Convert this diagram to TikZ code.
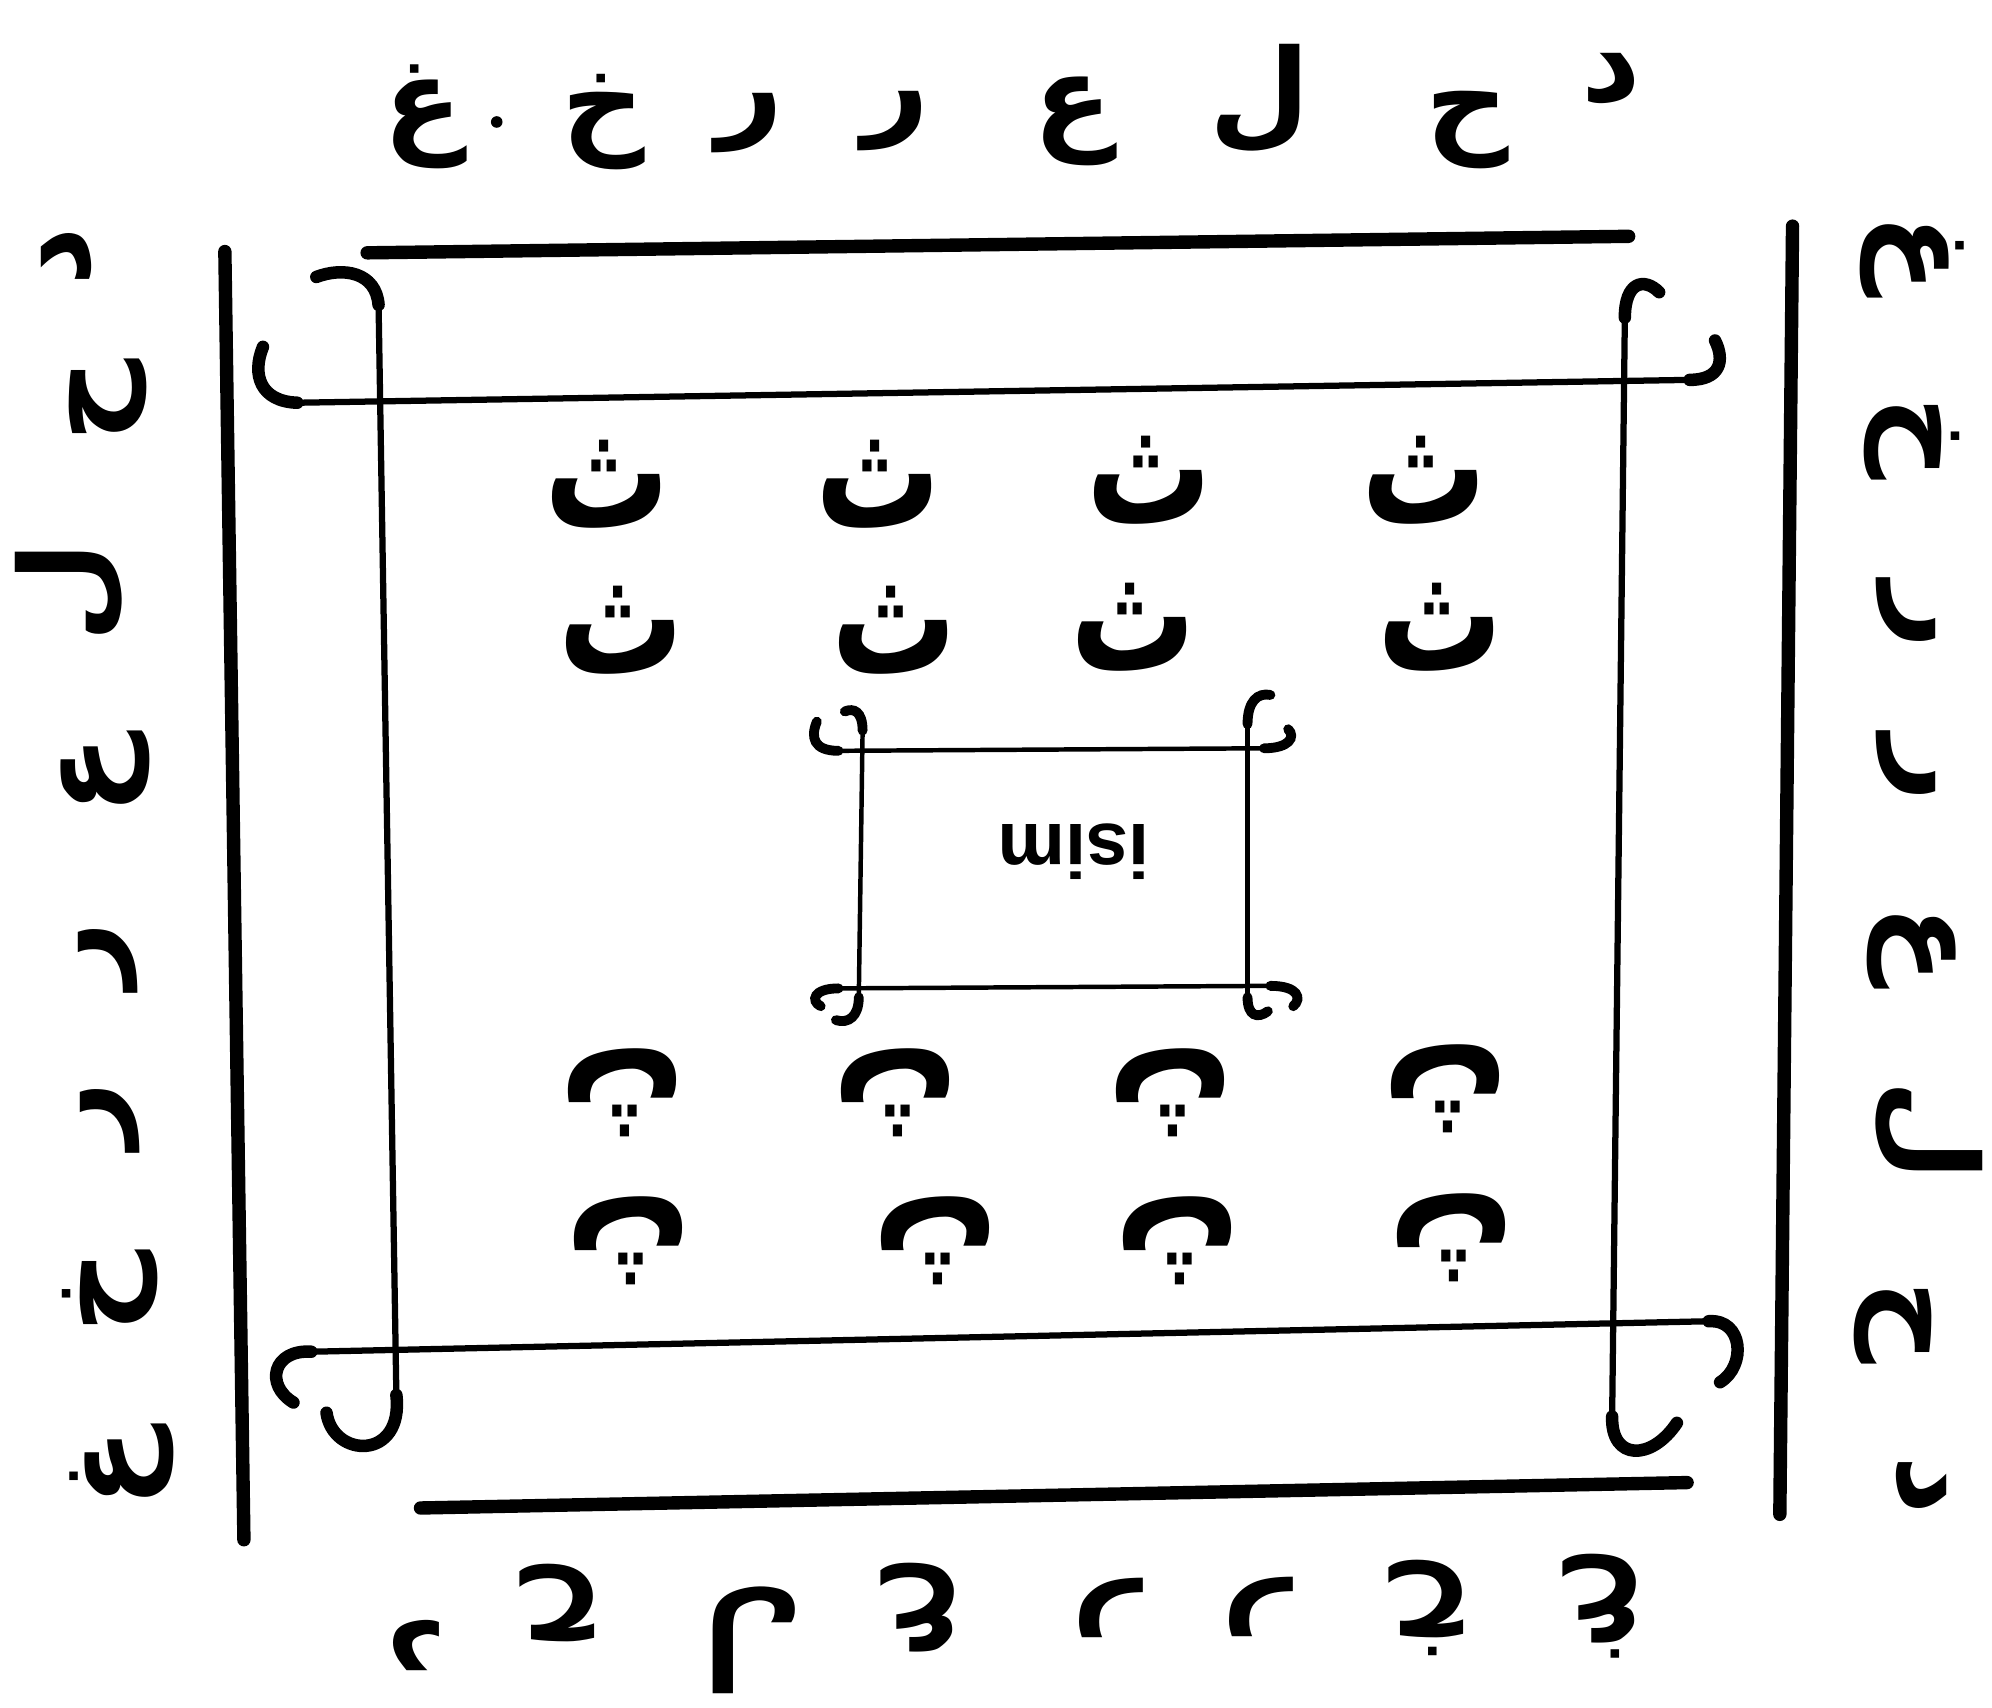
\documentclass[tikz,border=0pt]{standalone}
\usepackage{fontspec}
\usepackage{graphicx}
\setmainfont{Liberation Sans}
\newfontfamily\arabicfont[Script=Arabic]{DejaVu Sans}
\TeXXeTstate=1
\newcommand{\thaglyph}{\scalebox{1}[1.3]{\beginR ث\endR}}
\tikzset{
  bar/.style={line width=3pt, line cap=round},
  ln/.style={line width=1.4pt},
  hk/.style={line width=2.8pt, line cap=round},
  sln/.style={line width=1pt},
  shk/.style={line width=2.2pt, line cap=round},
  ltr/.style={font=\arabicfont\bfseries\fontsize{26}{30}\selectfont, inner sep=0pt,
              execute at begin node=\beginR, execute at end node=\endR},
  th/.style={font=\arabicfont\bfseries\fontsize{28}{32}\selectfont, inner sep=0pt},
  nm/.style={font=\bfseries\fontsize{17}{20}\selectfont, inner sep=0pt, rotate=180}
}
\begin{document}
\begin{tikzpicture}[x=0.01cm,y=-0.01cm]
  \useasboundingbox (0,0) rectangle (1568,1344);
  % Outer bars
  \draw[bar] (289,199) -- (1282,186);
  \draw[bar] (177,198) -- (192,1212);
  \draw[bar] (1411,178) -- (1401,1192);
  \draw[bar] (331,1187) -- (1328,1167);
  % Inner frame
  \draw[ln] (234,317) -- (1330,299);
  \draw[ln] (298,240) -- (312,1098);
  \draw[ln] (1279,250) -- (1269,1115);
  \draw[ln] (245,1064) -- (1345,1040);
  \draw[hk] (234,317) .. controls (205,316) and (198,295) .. (207,273);
  \draw[hk] (298,240) .. controls (296,214) and (270,210) .. (249,218);
  \draw[hk] (1279,250) .. controls (1279,222) and (1294,218) .. (1306,230);
  \draw[hk] (1330,299) .. controls (1354,299) and (1358,284) .. (1350,268);
  \draw[hk] (245,1064) .. controls (215,1062) and (208,1090) .. (231,1104);
  \draw[hk] (312,1098) .. controls (318,1150) and (262,1148) .. (257,1112);
  \draw[hk] (1345,1040) .. controls (1372,1038) and (1375,1075) .. (1354,1088);
  \draw[hk] (1269,1115) .. controls (1268,1150) and (1300,1150) .. (1320,1120);
  % Name box
  \draw[sln] (660,591) -- (995,589);
  \draw[sln] (679,575) -- (676,785);
  \draw[sln] (982,570) -- (982,785);
  \draw[sln] (660,778) -- (1000,776);
  \draw[shk] (660,591) .. controls (640,591) and (638,580) .. (643,568);
  \draw[shk] (679,575) .. controls (679,560) and (672,557) .. (665,560);
  \draw[shk] (982,570) .. controls (982,552) and (990,545) .. (1000,547);
  \draw[shk] (995,589) .. controls (1015,589) and (1020,580) .. (1014,574);
  \draw[shk] (660,778) .. controls (640,778) and (638,788) .. (646,792);
  \draw[shk] (676,785) .. controls (676,800) and (668,806) .. (658,803);
  \draw[shk] (1000,776) .. controls (1022,776) and (1025,786) .. (1018,792);
  \draw[shk] (982,785) .. controls (982,800) and (990,802) .. (998,796);
  \node[nm] (name) at (845,670) {isim};
  % Top row
  \node[ltr] (t1) at (333,92) {غ};
  \fill (391,96) circle[radius=1.3pt];
  \node[ltr] (t2) at (475,96) {خ};
  \node[ltr] (t3) at (590,97) {ر};
  \node[ltr] (t4) at (705,95) {ر};
  \node[ltr] (t5) at (845,95) {ع};
  \node[ltr] (t6) at (992,78) {ل};
  \node[ltr] (t7) at (1155,102) {ح};
  \node[ltr] (t8) at (1268,62) {د};
  % Left column
  \node[ltr, rotate=90] (l1) at (53,202) {د};
  \node[ltr, rotate=90] (l2) at (85,315) {ح};
  \node[ltr, rotate=90] (l3) at (55,466) {ل};
  \node[ltr, rotate=90] (l4) at (83,610) {ع};
  \node[ltr, rotate=90] (l5) at (85,752) {ر};
  \node[ltr, rotate=90] (l6) at (87,878) {ر};
  \node[ltr, rotate=90] (l7) at (87,1017) {خ};
  \node[ltr, rotate=90] (l8) at (96,1155) {غ};
  % Right column
  \node[ltr, rotate=-90] (r1) at (1505,200) {غ};
  \node[ltr, rotate=-90] (r2) at (1505,345) {خ};
  \node[ltr, rotate=-90] (r3) at (1500,485) {ر};
  \node[ltr, rotate=-90] (r4) at (1500,605) {ر};
  \node[ltr, rotate=-90] (r5) at (1505,744) {ع};
  \node[ltr, rotate=-90] (r6) at (1518,890) {ل};
  \node[ltr, rotate=-90] (r7) at (1490,1041) {ح};
  \node[ltr, rotate=-90] (r8) at (1512,1169) {د};
  % Bottom row
  \node[ltr, rotate=180] (b1) at (328,1295) {د};
  \node[ltr, rotate=180] (b2) at (442,1262) {ح};
  \node[ltr, rotate=180] (b3) at (593,1290) {ل};
  \node[ltr, rotate=180] (b4) at (728,1266) {ع};
  \node[ltr, rotate=180] (b5) at (870,1266) {ر};
  \node[ltr, rotate=180] (b6) at (988,1265) {ر};
  \node[ltr, rotate=180] (b7) at (1126,1266) {خ};
  \node[ltr, rotate=180] (b8) at (1265,1264) {غ};
  % Tha rows
  \node[th] (a1) at (478,381) {\thaglyph};
  \node[th] (a2) at (691,381) {\thaglyph};
  \node[th] (a3) at (905,378) {\thaglyph};
  \node[th] (a4) at (1121,378) {\thaglyph};
  \node[th] (a5) at (489,496) {\thaglyph};
  \node[th] (a6) at (704,496) {\thaglyph};
  \node[th] (a7) at (892,494) {\thaglyph};
  \node[th] (a8) at (1134,494) {\thaglyph};
  \node[th, rotate=180] (c1) at (489,860) {\thaglyph};
  \node[th, rotate=180] (c2) at (704,860) {\thaglyph};
  \node[th, rotate=180] (c3) at (921,860) {\thaglyph};
  \node[th, rotate=180] (c4) at (1137,857) {\thaglyph};
  \node[th, rotate=180] (c5) at (494,977) {\thaglyph};
  \node[th, rotate=180] (c6) at (736,977) {\thaglyph};
  \node[th, rotate=180] (c7) at (926,977) {\thaglyph};
  \node[th, rotate=180] (c8) at (1142,974) {\thaglyph};
\end{tikzpicture}
\end{document}
